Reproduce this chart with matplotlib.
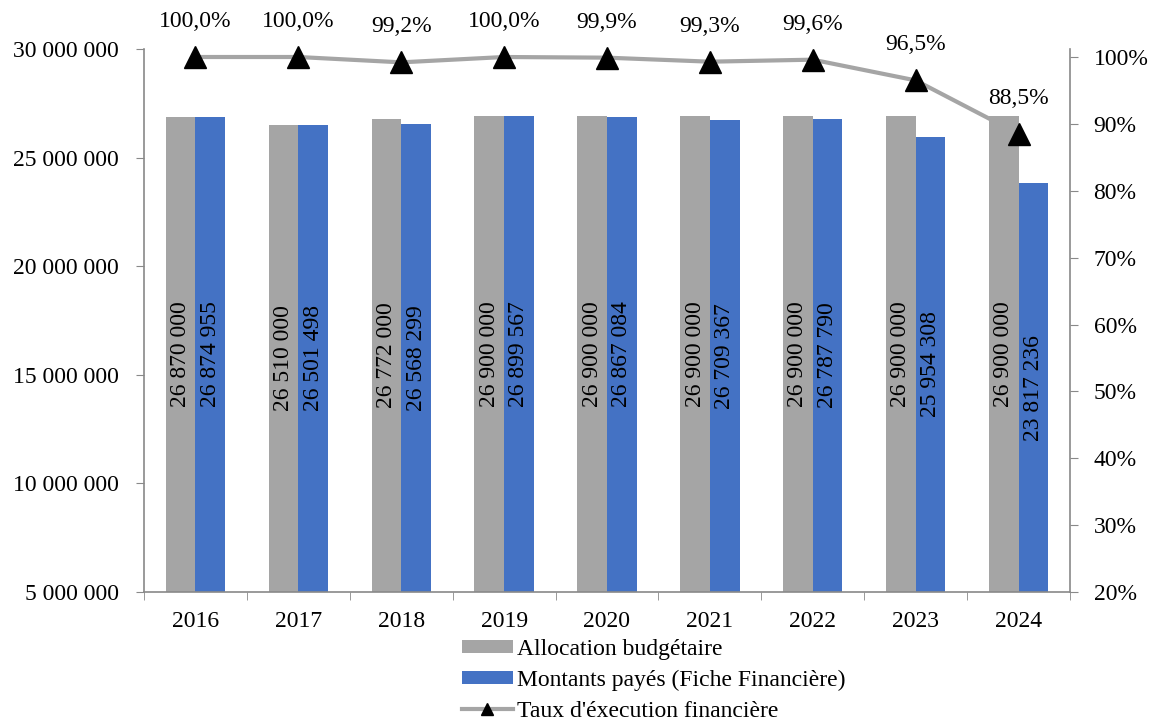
import matplotlib
matplotlib.use("Agg")
import matplotlib.pyplot as plt
from matplotlib.ticker import FuncFormatter, MultipleLocator, FixedLocator
import numpy as np

plt.rcParams['font.family'] = ['Liberation Serif', 'DejaVu Serif']

years = ['2016', '2017', '2018', '2019', '2020', '2021', '2022', '2023', '2024']
allocation = [26870000, 26510000, 26772000, 26900000, 26900000, 26900000, 26900000, 26900000, 26900000]
paid = [26874955, 26501498, 26568299, 26899567, 26867084, 26709367, 26787790, 25954308, 23817236]
rate = [100.0, 100.0, 99.2, 100.0, 99.9, 99.3, 99.6, 96.5, 88.5]

GREY = '#A5A5A5'
BLUE = '#4472C4'
AXIS = '#898989'
FS = 17

fig = plt.figure(figsize=(11.52, 7.25), dpi=100)
ax = fig.add_axes([144 / 1152, 1 - 592 / 725, 926 / 1152, 543 / 725])

x = np.arange(len(years))
w = 0.288
ax.bar(x - w / 2, allocation, w, color=GREY, label='Allocation budgétaire', zorder=2)
ax.bar(x + w / 2, paid, w, color=BLUE, label='Montants payés (Fiche Financière)', zorder=2)

ymin, ymax = 5_000_000, 30_000_000
ax.set_ylim(ymin, ymax)
ax.set_xlim(-0.5, len(years) - 0.5)


def spaced(v):
    return f"{int(round(v)):,}".replace(',', ' ')


for xi, a, p in zip(x, allocation, paid):
    ax.text(xi - w / 2, (ymin + a) / 2, spaced(a), rotation=90, ha='center', va='center',
            fontsize=FS, color='black', zorder=3)
    ax.text(xi + w / 2, (ymin + p) / 2, spaced(p), rotation=90, ha='center', va='center',
            fontsize=FS, color='black', zorder=3)

ax.yaxis.set_major_locator(MultipleLocator(5_000_000))
ax.yaxis.set_major_formatter(FuncFormatter(lambda v, _: spaced(v)))
ax.set_xticks(x)
ax.set_xticklabels(years)
ax.xaxis.set_minor_locator(FixedLocator(np.arange(-0.5, len(years), 1.0)))
ax.tick_params(axis='x', which='major', length=0, labelsize=FS, pad=14)
ax.tick_params(axis='x', which='minor', length=6, color=AXIS, direction='out')
ax.tick_params(axis='y', labelsize=FS, length=6, color=AXIS, direction='out', pad=12)
for s in ['top', 'right']:
    ax.spines[s].set_visible(False)
for s in ['left', 'bottom']:
    ax.spines[s].set_color(AXIS)
    ax.spines[s].set_linewidth(1.2)

ax2 = ax.twinx()
rmin = 20
rmax = 20 + 80 * (543 / 535)
ax2.set_ylim(rmin, rmax)
ax2.yaxis.set_major_locator(FixedLocator(np.arange(20, 101, 10)))
ax2.yaxis.set_major_formatter(FuncFormatter(lambda v, _: f"{int(round(v))}%"))
ax2.tick_params(axis='y', labelsize=FS, length=6, color=AXIS, direction='out', pad=11)
for s in ['top', 'left', 'bottom']:
    ax2.spines[s].set_visible(False)
ax2.spines['right'].set_color(AXIS)
ax2.spines['right'].set_linewidth(1.2)

line, = ax2.plot(x, rate, color=GREY, lw=3, marker='^', markersize=16,
                 markerfacecolor='black', markeredgecolor='black',
                 label="Taux d'éxecution financière", zorder=4, clip_on=False)
for xi, r in zip(x, rate):
    ax2.annotate(f"{r:.1f}%".replace('.', ','), (xi, r), xytext=(0, 18),
                 textcoords='offset points', ha='center', va='bottom', fontsize=FS,
                 annotation_clip=False)

handles, labels = ax.get_legend_handles_labels()
line_legend = plt.Line2D([], [], color=GREY, lw=3, marker='^', markersize=9,
                         markerfacecolor='black', markeredgecolor='black')
handles.append(line_legend)
labels.append("Taux d'éxecution financière")
fig.legend(handles, labels, loc='upper left', bbox_to_anchor=(462 / 1152, 1 - 639 / 725),
           frameon=False, fontsize=FS, handlelength=2.15, handletextpad=0.2,
           labelspacing=0.42, borderpad=0, borderaxespad=0, handleheight=0.5)

fig.savefig('out.png', dpi=100)
